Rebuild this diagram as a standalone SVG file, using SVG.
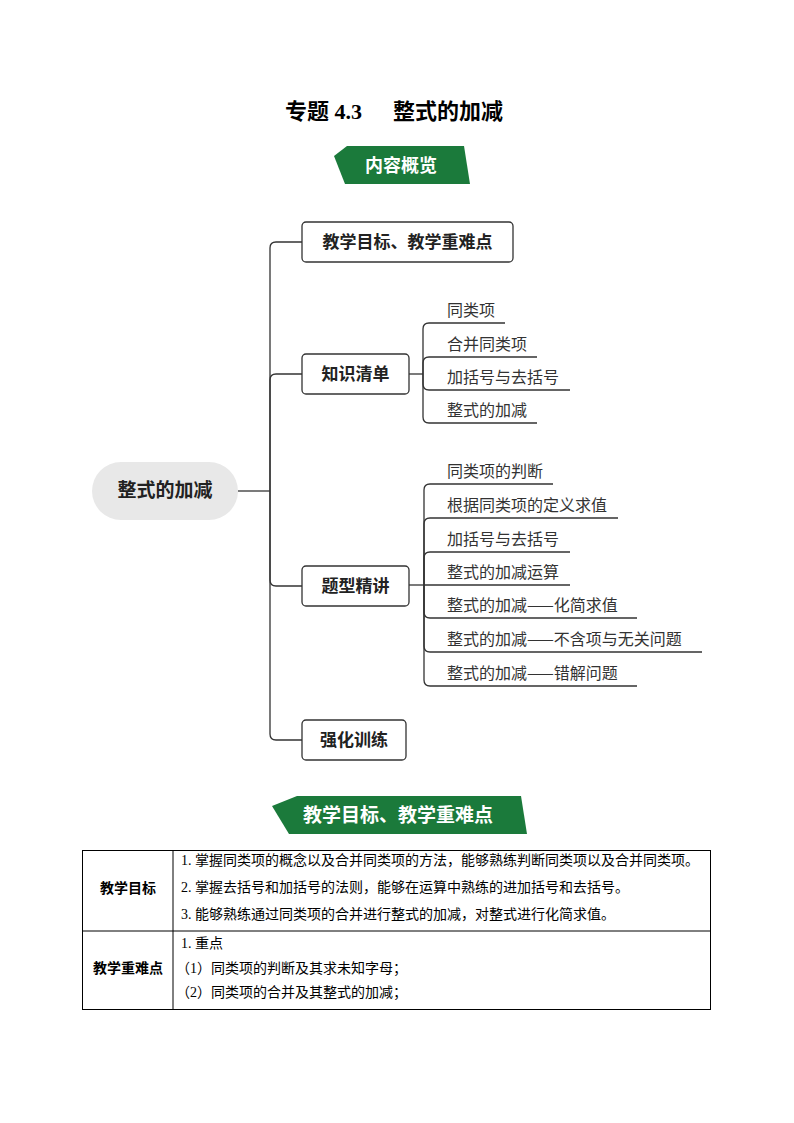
<svg xmlns="http://www.w3.org/2000/svg" width="794" height="1123" viewBox="0 0 794 1123">
<style>
.cjk{font-family:"Noto Sans CJK SC","Noto Sans",sans-serif;}
.title{font-family:"Liberation Serif","Noto Sans CJK SC",serif;font-size:22px;font-weight:bold;fill:#000;}
.ban{fill:#1b7a3b;}
.bant{font-family:"Noto Sans CJK SC",sans-serif;font-size:18px;font-weight:bold;fill:#fff;text-anchor:middle;}
.box{fill:#fff;stroke:#333;stroke-width:1.3;}
.boxt{font-family:"Noto Sans CJK SC",sans-serif;font-size:17px;font-weight:bold;fill:#222;text-anchor:middle;}
.leaf{font-family:"Noto Sans CJK SC",sans-serif;font-size:16px;fill:#333;}
.ln{fill:none;stroke:#333;stroke-width:1.3;}
.tb{fill:none;stroke:#000;stroke-width:1;}
.tt{font-family:"Liberation Serif","Noto Sans CJK SC",serif;font-size:14px;fill:#000;}
.th{font-family:"Noto Sans CJK SC",sans-serif;font-size:14px;font-weight:bold;fill:#000;text-anchor:middle;}
</style>
<rect width="794" height="1123" fill="#fff"/>
<g id="title">
<text class="title" x="285" y="119">专题 4.3</text>
<text class="title" x="393" y="119">整式的加减</text>
</g>
<g id="banner1">
<polygon class="ban" points="347,146 464,146 470,184 345,184 334,156"/>
<text class="bant" x="401" y="172">内容概览</text>
</g>
<g id="connectors">
<path class="ln" d="M238 491 H270"/>
<path class="ln" d="M270 491 V248 Q270 242 276 242 H302"/>
<path class="ln" d="M270 491 V380 Q270 374 276 374 H302"/>
<path class="ln" d="M270 491 V580 Q270 586 276 586 H302"/>
<path class="ln" d="M270 491 V734 Q270 740 276 740 H302"/>
<path class="ln" d="M409 374 H423"/>
<path class="ln" d="M423 374 V329 Q423 323 429 323 H505"/>
<path class="ln" d="M423 374 V363 Q423 357 429 357 H537"/>
<path class="ln" d="M423 374 V384 Q423 390 429 390 H570"/>
<path class="ln" d="M423 374 V417 Q423 423 429 423 H537"/>
<path class="ln" d="M409 585 H424"/>
<path class="ln" d="M424 585 V490 Q424 484 430 484 H553"/>
<path class="ln" d="M424 585 V524 Q424 518 430 518 H618"/>
<path class="ln" d="M424 585 V558 Q424 552 430 552 H570"/>
<path class="ln" d="M424 585 H570"/>
<path class="ln" d="M424 585 V612 Q424 618 430 618 H637"/>
<path class="ln" d="M424 585 V646 Q424 652 430 652 H702"/>
<path class="ln" d="M424 585 V680 Q424 686 430 686 H637"/>
</g>
<g id="root">
<rect x="92" y="462" width="146" height="58" rx="29" fill="#e8e8e8"/>
<text x="165" y="497" font-family="Noto Sans CJK SC, sans-serif" font-size="19" font-weight="bold" fill="#222" text-anchor="middle">整式的加减</text>
</g>
<g id="n-goal">
<rect class="box" x="302" y="222" width="211" height="40" rx="4"/>
<text class="boxt" x="407.5" y="248">教学目标、教学重难点</text>
</g>
<g id="n-know">
<rect class="box" x="302" y="354" width="107" height="40" rx="4"/>
<text class="boxt" x="355.5" y="380">知识清单</text>
</g>
<g id="n-type">
<rect class="box" x="302" y="566" width="107" height="40" rx="4"/>
<text class="boxt" x="355.5" y="592">题型精讲</text>
</g>
<g id="n-train">
<rect class="box" x="302" y="720" width="104" height="40" rx="4"/>
<text class="boxt" x="354" y="746">强化训练</text>
</g>
<g id="k1"><text class="leaf" x="447" y="316">同类项</text></g>
<g id="k2"><text class="leaf" x="447" y="350">合并同类项</text></g>
<g id="k3"><text class="leaf" x="447" y="383">加括号与去括号</text></g>
<g id="k4"><text class="leaf" x="447" y="416">整式的加减</text></g>
<g id="t1"><text class="leaf" x="447" y="477">同类项的判断</text></g>
<g id="t2"><text class="leaf" x="447" y="511">根据同类项的定义求值</text></g>
<g id="t3"><text class="leaf" x="447" y="545">加括号与去括号</text></g>
<g id="t4"><text class="leaf" x="447" y="578">整式的加减运算</text></g>
<g id="t5"><text class="leaf" x="447" y="611">整式的加减——化简求值</text></g>
<g id="t6"><text class="leaf" x="447" y="645">整式的加减——不含项与无关问题</text></g>
<g id="t7"><text class="leaf" x="447" y="679">整式的加减——错解问题</text></g>
<g id="banner2">
<polygon class="ban" points="297,796 521,796 527,834 289,834 272,806"/>
<text class="bant" x="398" y="822" style="font-size:19px">教学目标、教学重难点</text>
</g>
<g id="table">
<rect class="tb" x="82.5" y="850.5" width="628" height="159"/>
<line class="tb" x1="173" y1="850.5" x2="173" y2="1009.5"/>
<line class="tb" x1="82.5" y1="931" x2="710.5" y2="931"/>
<text class="th" x="128" y="893">教学目标</text>
<text class="th" x="128" y="973">教学重难点</text>
<text class="tt" x="181" y="865">1. 掌握同类项的概念以及合并同类项的方法，能够熟练判断同类项以及合并同类项。</text>
<text class="tt" x="181" y="892">2. 掌握去括号和加括号的法则，能够在运算中熟练的进加括号和去括号。</text>
<text class="tt" x="181" y="919">3. 能够熟练通过同类项的合并进行整式的加减，对整式进行化简求值。</text>
<text class="tt" x="181" y="948">1. 重点</text>
<text class="tt" x="176" y="973">（1）同类项的判断及其求未知字母；</text>
<text class="tt" x="176" y="997">（2）同类项的合并及其整式的加减；</text>
</g>
</svg>
